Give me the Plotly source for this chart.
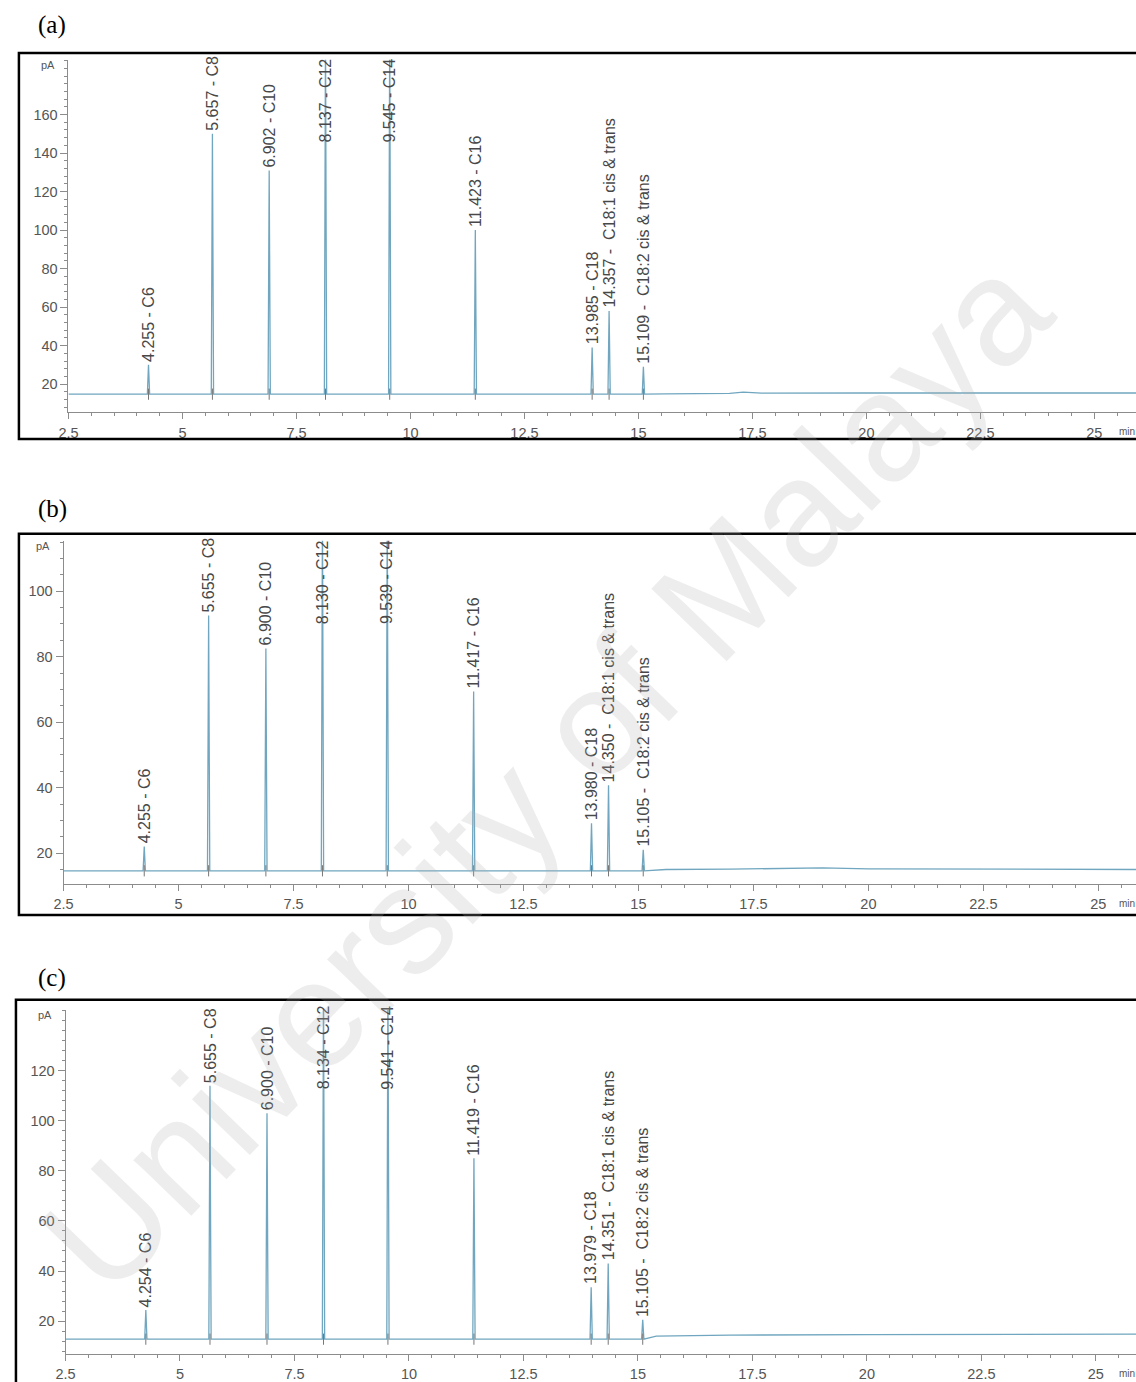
import plotly.graph_objects as go

W, H = 1136, 1382

# Fatty acid methyl ester identities (same elution order in every run)
names = ["C6", "C8", "C10", "C12", "C14", "C16", "C18",
         "C18:1 cis & trans", "C18:2 cis & trans"]

# Run (a): retention times (min) and peak apex (pA)
rt_a = [4.255, 5.657, 6.902, 8.137, 9.545, 11.423, 13.985, 14.357, 15.109]
pk_a = [30.0, 150.0, 131.0, 205.0, 205.0, 100.0, 39.0, 58.0, 29.0]
base_a = 14.8
tail_t_a = [15.6, 17.0, 17.3, 17.7, 20.0, 26.0]
tail_v_a = [15.0, 15.2, 15.9, 15.3, 15.4, 15.4]

# Run (b)
rt_b = [4.255, 5.655, 6.900, 8.130, 9.539, 11.417, 13.980, 14.350, 15.105]
pk_b = [22.0, 92.6, 82.5, 125.0, 125.0, 69.4, 29.1, 40.7, 21.0]
base_b = 14.6
tail_t_b = [15.6, 17.0, 19.0, 20.0, 26.0]
tail_v_b = [15.0, 15.1, 15.5, 15.2, 15.0]

# Run (c)
rt_c = [4.254, 5.655, 6.900, 8.134, 9.541, 11.419, 13.979, 14.351, 15.105]
pk_c = [24.4, 114.0, 103.0, 155.0, 155.0, 85.0, 33.5, 43.0, 20.5]
base_c = 12.8
tail_t_c = [15.4, 17.0, 20.0, 26.0]
tail_v_c = [14.0, 14.4, 14.6, 14.8]

# Axis ticks
x_ticks = [2.5, 5, 7.5, 10, 12.5, 15, 17.5, 20, 22.5, 25]
y_ticks_a = [20, 40, 60, 80, 100, 120, 140, 160]
y_ticks_b = [20, 40, 60, 80, 100]
y_ticks_c = [20, 40, 60, 80, 100, 120]

# Layout of the three stacked chromatograms, in pixels
panels = [
    dict(tag="(a)", rt=rt_a, pk=pk_a, base=base_a, tt=tail_t_a, tv=tail_v_a,
         yticks=y_ticks_a, yr=[5.49, 188.4], ytop=60, ybot=413, x0=59, ppm=46.0,
         yminor=4, box_top=53, box_bot=440, box_left=9, tag_y=25),
    dict(tag="(b)", rt=rt_b, pk=pk_b, base=base_b, tt=tail_t_b, tv=tail_v_b,
         yticks=y_ticks_b, yr=[10.55, 115.4], ytop=542, ybot=886, x0=54, ppm=46.4,
         yminor=5, box_top=535, box_bot=917, box_left=9, tag_y=510),
    dict(tag="(c)", rt=rt_c, pk=pk_c, base=base_c, tt=tail_t_c, tv=tail_v_c,
         yticks=y_ticks_c, yr=[6.85, 144.3], ytop=1012, ybot=1357, x0=56, ppm=46.2,
         yminor=4, box_top=1002, box_bot=1400, box_left=6, tag_y=980),
]

HALF_WIDTH = 0.025      # half base width of each drawn peak (min)
TRACE_COLOR = "#70a6bf"
AXIS_COLOR = "#8c8c8c"
FAMILY = "Liberation Sans, Arial, sans-serif"
TICK_FONT = dict(family=FAMILY, size=14.5, color="#555555")
LABEL_FONT = dict(family=FAMILY, size=16, color="#484848")


def px_x(p):
    return p / W


def px_y(p):
    return 1 - p / H


fig = go.Figure()
shapes, annotations = [], []

for i, p in enumerate(panels, start=1):
    xa, ya = f"x{i}", f"y{i}"
    xmax = 2.5 + (W - p["x0"]) / p["ppm"]

    # Signal: flat baseline with a sharp peak at every retention time
    xs, ys = [2.5], [p["base"]]
    for t, h in zip(p["rt"], p["pk"]):
        xs += [t - HALF_WIDTH, t, t + HALF_WIDTH]
        ys += [p["base"], h, p["base"]]
    xs += p["tt"]
    ys += p["tv"]
    fig.add_trace(go.Scatter(x=xs, y=ys, mode="lines", xaxis=xa, yaxis=ya,
                             line=dict(color=TRACE_COLOR, width=1.3),
                             showlegend=False, hoverinfo="skip"))

    # Integration marks at the peak bases
    fig.add_trace(go.Scatter(x=p["rt"], y=[p["base"]] * len(p["rt"]), mode="markers",
                             xaxis=xa, yaxis=ya, showlegend=False, hoverinfo="skip",
                             marker=dict(symbol="line-ns", size=8,
                                         line=dict(color="#777777", width=1))))

    fig.update_layout({
        f"xaxis{i}": dict(domain=[px_x(p["x0"]), 1], range=[2.5, xmax], anchor=ya,
                          showline=True, linecolor=AXIS_COLOR, linewidth=1,
                          ticks="outside", ticklen=6, tickcolor=AXIS_COLOR,
                          tickvals=x_ticks, ticktext=[f"{v:g}" for v in x_ticks],
                          tickfont=TICK_FONT, showgrid=False, zeroline=False,
                          ticklabelstandoff=1,
                          minor=dict(dtick=0.5, tick0=2.5, ticks="outside", ticklen=3,
                                     tickcolor=AXIS_COLOR, showgrid=False)),
        f"yaxis{i}": dict(domain=[px_y(p["ybot"]), px_y(p["ytop"])], range=p["yr"],
                          anchor=xa, showline=True, linecolor=AXIS_COLOR, linewidth=1,
                          ticks="outside", ticklen=7, tickcolor=AXIS_COLOR,
                          tickvals=p["yticks"], tickfont=TICK_FONT,
                          showgrid=False, zeroline=False,
                          minor=dict(dtick=p["yminor"], tick0=0, ticks="outside",
                                     ticklen=3, tickcolor=AXIS_COLOR, showgrid=False)),
    })

    # Frame around the chromatogram
    shapes.append(dict(type="rect", xref="paper", yref="paper",
                       x0=px_x(p["box_left"]), x1=1.05,
                       y0=px_y(p["box_bot"]), y1=px_y(p["box_top"]),
                       line=dict(color="black", width=2.5), layer="above"))

    # Panel tag
    annotations.append(dict(text=p["tag"], xref="paper", yref="paper",
                            x=px_x(26), y=px_y(p["tag_y"]), xanchor="left",
                            yanchor="middle", showarrow=False,
                            font=dict(family="Liberation Serif, Times New Roman, serif",
                                      size=25, color="black")))

    # Units
    annotations.append(dict(text="pA", xref="paper", yref="paper",
                            x=px_x(p["x0"] - 12), y=px_y(p["ytop"] + 5),
                            xanchor="right", yanchor="middle", showarrow=False,
                            font=dict(family=FAMILY, size=11, color="#555555")))
    annotations.append(dict(text="min", xref="paper", yref="paper",
                            x=px_x(1117), y=px_y(p["ybot"] + 19),
                            xanchor="left", yanchor="middle", showarrow=False,
                            font=dict(family=FAMILY, size=10, color="#555555")))

    # Peak labels, written vertically above each apex
    for t, h, n in zip(p["rt"], p["pk"], names):
        text = f"{t:.3f} - {n}" if ":" not in n else f"{t:.3f} -  {n}"
        if h > p["yr"][1]:
            annotations.append(dict(text=text, x=t, xref=xa, yref="paper",
                                    y=px_y(p["box_top"] + 4), xanchor="center",
                                    yanchor="top", textangle=-90, showarrow=False,
                                    font=LABEL_FONT))
        else:
            annotations.append(dict(text=text, x=t, y=h, xref=xa, yref=ya,
                                    xanchor="center", yanchor="bottom", yshift=1,
                                    textangle=-90, showarrow=False, font=LABEL_FONT))

# Repository watermark across the page
annotations.append(dict(text="University of Malaya", xref="paper", yref="paper",
                        x=px_x(540), y=px_y(775), xanchor="center", yanchor="middle",
                        textangle=-46, showarrow=False,
                        font=dict(family=FAMILY, size=152,
                                  color="rgba(175,175,175,0.22)")))

fig.update_layout(width=W, height=H, margin=dict(l=0, r=0, t=0, b=0),
                  paper_bgcolor="white", plot_bgcolor="white",
                  shapes=shapes, annotations=annotations, showlegend=False)

fig.write_html("out.html")
